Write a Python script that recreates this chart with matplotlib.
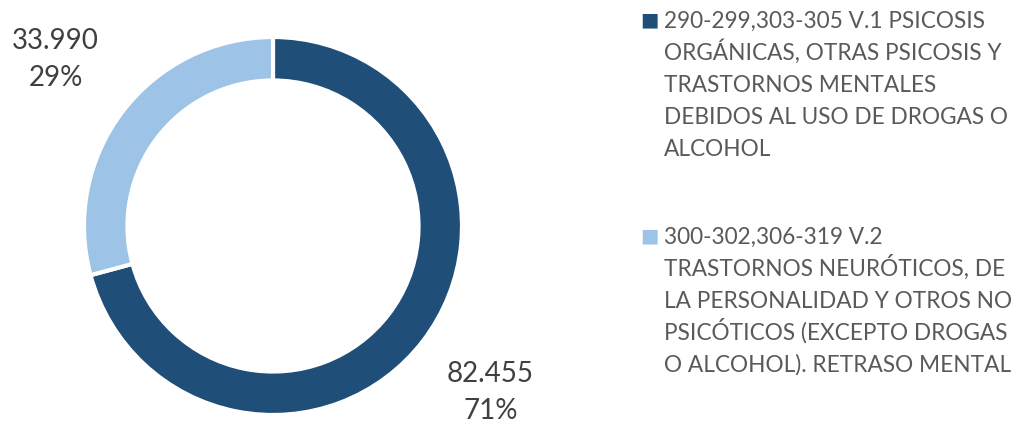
import matplotlib.pyplot as plt

# grupos diagnósticos y casos
labels = [
    "290-299,303-305 V.1 PSICOSIS\nORGÁNICAS, OTRAS PSICOSIS Y\nTRASTORNOS MENTALES\nDEBIDOS AL USO DE DROGAS O\nALCOHOL",
    "300-302,306-319 V.2\nTRASTORNOS NEURÓTICOS, DE\nLA PERSONALIDAD Y OTROS NO\nPSICÓTICOS (EXCEPTO DROGAS\nO ALCOHOL). RETRASO MENTAL",
]
values = [82455, 33990]
colors = ["#1F4E79", "#9DC3E6"]

plt.rcParams['font.family'] = ['Lato', 'DejaVu Sans']

fig = plt.figure(figsize=(10.18, 4.32), dpi=100)
ax = fig.add_axes([84 / 1018, 17 / 432, 378 / 1018, 378 / 432])

total = sum(values)
texts_lbl = ["{:,}".format(v).replace(",", ".") + "\n" + "{:.0f}%".format(100 * v / total) for v in values]

wedges, texts = ax.pie(values, colors=colors, startangle=90, counterclock=False,
                       labels=texts_lbl, labeldistance=1.45,
                       wedgeprops=dict(width=0.23, edgecolor="white", linewidth=3))
for t in texts:
    t.set_ha("center")
    t.set_va("center")
    t.set_fontsize(20)
    t.set_color("#404040")
    t.set_linespacing(1.5)
ax.set_xlim(-1, 1)
ax.set_ylim(-1, 1)
ax.set_aspect("equal")

# leyenda manual, una línea cada vez
tops = [20, 236]
for lab, col, top in zip(labels, colors, tops):
    fig.text(640 / 1018, 1 - top / 432, "\u25A0", color=col, fontsize=14, va="center", ha="left")
    for i, line in enumerate(lab.split("\n")):
        fig.text(664 / 1018, 1 - (top + 32 * i + 8) / 432, line, color="#595959", fontsize=16.3,
                 va="baseline", ha="left")

plt.savefig("out.png")
